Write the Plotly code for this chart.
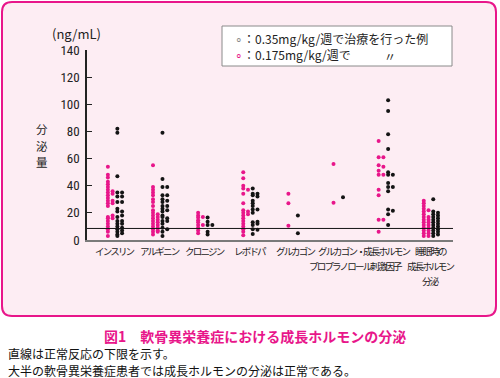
import plotly.graph_objects as go

# ---------------- data ----------------
categories = ["insulin", "arginine", "clonidine", "levodopa", "glucagon",
              "glucagon_propranolol", "ghrh", "sleep"]
tick_labels = ["インスリン", "アルギニン", "クロニジン", "レボドパ", "グルカゴン",
               "グルカゴン・<br>プロプラノロール", "成長ホルモン<br>刺激因子",
               "睡眠時の<br>成長ホルモン<br>分泌"]

# 0.175 mg/kg/week (pink), two dot columns per category
pink_main = [
    [54, 48, 46, 43, 41, 39, 37, 35, 33, 31, 29, 27, 25, 17, 16, 14, 12, 10, 8, 6, 3],
    [55, 39, 37, 35, 33, 30, 28, 25, 22, 20, 18, 16, 14, 12, 10, 8, 6, 4],
    [20, 18, 16.5, 14.5, 13, 11, 9, 7, 5],
    [50, 45.5, 40, 38, 34, 27, 22, 20, 18, 16, 14, 12, 10, 8, 6, 3.5],
    [34, 27, 10.5],
    [56, 27.5],
    [73, 61, 55, 51, 48, 37, 33, 15, 6],
    [29, 27, 25, 23, 21, 19, 17, 15, 13, 11, 9, 7, 5, 3],
]
pink_side = [
    [36, 34, 29, 27, 18, 16],
    [19, 17, 15, 13, 11, 9, 7, 6],
    [17, 11],
    [37, 21, 19],
    [],
    [],
    [61, 54, 48, 15],
    [22, 17, 15, 13, 11, 9, 7, 5, 3],
]
# 0.35 mg/kg/week (black)
black_main = [
    [82, 79, 47, 35, 32, 28, 23, 21, 17, 14, 12, 10, 8, 6, 4, 3],
    [141, 79, 45, 39, 33, 30, 28, 25, 23, 21, 18, 17, 14, 12, 9, 6, 3],
    [16.5, 13.5, 11, 6, 4],
    [38, 34, 33, 29, 27, 25, 22.5, 20, 13, 11, 8, 4.5],
    [18, 5],
    [31.5],
    [103, 95, 78, 67, 50, 48, 42, 39, 36, 22.5, 19, 11],
    [30, 21, 19, 17, 15, 13, 11, 9, 7, 5, 3],
]
black_side = [
    [35, 32, 28, 21, 18, 14, 12, 9, 7, 5],
    [39, 33, 29, 25, 22, 16, 14, 8],
    [11],
    [34, 32, 22.5, 13.5, 12, 7.5],
    [],
    [],
    [48, 39, 21.5],
    [20, 18, 16, 14, 12, 10, 8, 6, 4],
]
normal_lower_limit = 8.5
y_ticks = [0, 20, 40, 60, 80, 100, 120, 140]

# ---------------- style ----------------
PINK = "#e8168a"
BLACK = "#141414"
BG = "#fdedf3"
CJK = "Noto Sans CJK JP"
NUM = "Liberation Sans Narrow, Roboto Condensed, Roboto, sans-serif"

L, R, T, B = 87, 453, 50, 240
W, H = 500, 378
LABEL_LINE_Y = [251, 266, 281]          # pixel rows of the category label lines
LABEL_XSHIFT = {"ghrh": 1}


def px_x(px):
    return (px - L) / (R - L)


def px_y(py):
    return (B - py) / (B - T)


def flatten(groups):
    xs, ys = [], []
    for cat, vals in zip(categories, groups):
        for v in vals:
            xs.append(cat)
            ys.append(v)
    return xs, ys


fig = go.Figure()
series = [("pA", pink_main, PINK), ("pB", pink_side, PINK),
          ("bA", black_main, BLACK), ("bB", black_side, BLACK)]
for name, groups, color in series:
    xs, ys = flatten(groups)
    fig.add_trace(go.Scatter(
        x=xs, y=ys, mode="markers", offsetgroup=name, showlegend=False,
        marker=dict(size=4, color=color, line=dict(width=0)),
        cliponaxis=False, hoverinfo="skip"))

# rounded pink frame
x0, x1 = px_x(2), px_x(496)
y0, y1 = px_y(316), px_y(2)
rx, ry = 10 / (R - L), 10 / (B - T)
path = (f"M {x0+rx},{y1} L {x1-rx},{y1} Q {x1},{y1} {x1},{y1-ry} "
        f"L {x1},{y0+ry} Q {x1},{y0} {x1-rx},{y0} L {x0+rx},{y0} "
        f"Q {x0},{y0} {x0},{y0+ry} L {x0},{y1-ry} Q {x0},{y1} {x0+rx},{y1} Z")
shapes = [
    dict(type="path", path=path, xref="paper", yref="paper", layer="below",
         fillcolor=BG, line=dict(color=PINK, width=2)),
    dict(type="line", xref="paper", yref="y", x0=0, x1=1,
         y0=normal_lower_limit, y1=normal_lower_limit,
         line=dict(color=BLACK, width=1)),
    dict(type="rect", xref="paper", yref="paper",
         x0=px_x(222), x1=px_x(452), y0=px_y(66), y1=px_y(26),
         fillcolor="white", line=dict(color="#8a8a8a", width=1)),
]


def note(text, px, py, size, color="#222", xanchor="center", family=CJK):
    return dict(text=text, xref="paper", yref="paper", x=px_x(px), y=px_y(py),
                xanchor=xanchor, yanchor="middle", showarrow=False,
                font=dict(family=family, size=size, color=color))


annotations = [
    note("(ng/mL)", 76, 34, 13),
    note('<span style="color:#8a8a8a">∘</span>：0.35mg/kg/週で治療を行った例',
         233, 38, 12, xanchor="left"),
    note(f'<span style="color:{PINK}">∘</span>：0.175mg/kg/週で',
         233, 55, 12, xanchor="left"),
    note("〃", 390, 56, 12),
    note("<b>図1　軟骨異栄養症における成長ホルモンの分泌</b>", 255, 336, 14, color=PINK),
    note("直線は正常反応の下限を示す。", 6, 353, 12, color="#111", xanchor="left"),
    note("大半の軟骨異栄養症患者では成長ホルモンの分泌は正常である。", 6, 370, 12,
         color="#111", xanchor="left"),
]
for ch, py in zip("分泌量", [129, 145.5, 162]):
    annotations.append(note(ch, 42, py, 11.5))

# category labels, one line per annotation, anchored on the category axis
for cat, label in zip(categories, tick_labels):
    for line, py in zip(label.split("<br>"), LABEL_LINE_Y):
        annotations.append(dict(
            text=f'<span style="letter-spacing:-1.8px">{line}</span>',
            xref="x", yref="paper", x=cat, y=px_y(py),
            xshift=LABEL_XSHIFT.get(cat, 0), xanchor="center", yanchor="middle",
            showarrow=False, font=dict(family=CJK, size=9.5, color="#222")))

fig.update_layout(
    width=W, height=H,
    margin=dict(l=L, r=W - R, t=T, b=H - B, pad=0),
    paper_bgcolor="white", plot_bgcolor="rgba(0,0,0,0)",
    scattermode="group", scattergap=0.58,
    shapes=shapes, annotations=annotations,
    xaxis=dict(type="category", categoryorder="array", categoryarray=categories,
               range=[-0.62, 7.49], showticklabels=False,
               showline=True, linecolor="#7a7a7a", linewidth=1.5, ticks="",
               showgrid=False, zeroline=False),
    yaxis=dict(range=[0, 140], tickvals=y_ticks, showline=True, linecolor="#222",
               linewidth=1.5, ticks="inside", ticklen=5, tickcolor="#222",
               showgrid=False, zeroline=False, ticklabelstandoff=3,
               tickfont=dict(family=NUM, size=13, color="#222")),
)

fig.write_html("out.html", config={"displayModeBar": False},
               post_script="document.body.style.margin='0';"
                           "document.body.style.overflow='hidden';")
